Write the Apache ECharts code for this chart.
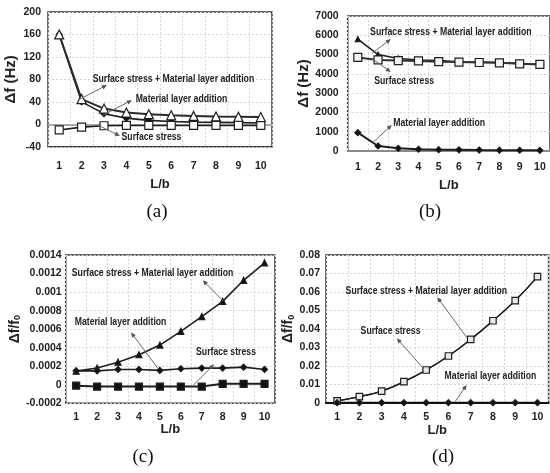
<!DOCTYPE html>
<html><head><meta charset="utf-8">
<script src="https://cdn.jsdelivr.net/npm/echarts@6/dist/echarts.min.js"></script>
<style>html,body{margin:0;padding:0;background:#fff}#c{width:550px;height:473px}</style>
</head><body><div id="c"></div>
<script>
// ---------- data ----------
const categories = ['1','2','3','4','5','6','7','8','9','10'];
// (a) Δf (Hz)
const aSum      = [160, 45, 28, 21, 18, 16, 15, 14, 13.5, 13];
const aMaterial = [160, 40, 19, 11, 7, 5, 4, 3.5, 3, 2.5];
const aSurface  = [-10, -5, -2.5, -2, -2, -2, -2, -2, -2, -2];
const aYTicks   = {min: -40, max: 200, interval: 40};
// (b) Δf (Hz)
const bSum      = [5800, 5000, 4800, 4720, 4690, 4630, 4610, 4590, 4540, 4490];
const bSurface  = [4850, 4720, 4690, 4670, 4630, 4610, 4590, 4570, 4520, 4490];
const bMaterial = [950, 260, 140, 90, 70, 60, 50, 45, 40, 35];
const bYTicks   = {min: 0, max: 7000, interval: 1000};
// (c) Δf/f0
const cSum      = [0.000147, 0.00018, 0.000244, 0.000324, 0.000428, 0.000576, 0.000735, 0.0009, 0.001127, 0.001315];
const cMaterial = [0.00015, 0.00015, 0.000165, 0.000165, 0.000155, 0.000173, 0.00018, 0.00018, 0.00019, 0.000165];
const cSurface  = [-0.00001, -0.00002, -0.00002, -0.00002, -0.00002, -0.00002, -0.00002, 0.00001, 0.00001, 0.00001];
const cYTicks   = {min: -0.0002, max: 0.0014, interval: 0.0002};
// (d) Δf/f0
const dSurface  = [0.001, 0.0033, 0.0063, 0.0114, 0.0177, 0.0253, 0.0343, 0.0444, 0.0553, 0.0683];
const dSum      = [0.001, 0.0033, 0.0063, 0.0114, 0.0177, 0.0253, 0.0343, 0.0444, 0.0553, 0.0683];
const dMaterial = [0, 0, 0, 0, 0, 0, 0, 0, 0, 0];
const dYTicks   = {min: 0, max: 0.08, interval: 0.01};

const SUM = 'Surface stress + Material layer addition';
const MAT = 'Material layer addition';
const SUR = 'Surface stress';

// annotations in data coordinates: [L/b, value]
const annotations = [
  {g:0, text:SUM, at:[6.1, 80],   from:[1.84, 43],  to:[3.13, 70]},
  {g:0, text:MAT, at:[6.46, 45],  from:[2.96, 16.6], to:[4.25, 43]},
  {g:0, text:SUR, at:[5.12, -22.6], from:[2.73, -1.2], to:[3.71, -20.8]},
  {g:1, text:SUM, at:[5.6, 6169], from:[1.72, 5080], to:[2.63, 5806]},
  {g:1, text:SUR, at:[3.29, 3629], from:[1.67, 4821], to:[2.63, 4095]},
  {g:1, text:MAT, at:[5.02, 1452], from:[1.72, 415], to:[2.68, 1348]},
  {g:2, text:SUM, at:[4.65, 0.001203], from:[8.02, 0.000904], to:[7.05, 0.001128]},
  {g:2, text:MAT, at:[3.12, 0.000674], from:[4.91, 0.000176], to:[3.62, 0.000565]},
  {g:2, text:SUR, at:[8.16, 0.000349], from:[6.58, -0.0000076], to:[7.59, 0.000219]},
  {g:3, text:SUM, at:[5.01, 0.0605], from:[6.82, 0.0354], to:[5.5, 0.0571]},
  {g:3, text:SUR, at:[3.4, 0.0388],  from:[4.87, 0.0186], to:[3.68, 0.0349]},
  {g:3, text:MAT, at:[7.89, 0.01446], from:[6.3, 0.00054], to:[6.82, 0.00959]}
];

// ---------- layout ----------
const grids = [
  {left: 48,    top: 12,  width: 224,   height: 134.8},
  {left: 347.7, top: 16,  width: 207.5, height: 135},
  {left: 65.7,  top: 255, width: 209.3, height: 148.3},
  {left: 326,   top: 255, width: 222.6, height: 147.7}
];
const yTicks = [aYTicks, bYTicks, cYTicks, dYTicks];
const labelMargins = [14, 11, 8, 9];
const xNameGaps = [31, 28, 19, 20];
const yNameGaps = [30, 32, 42, 27];
const yLabelMargins = [7, 9, 4, 6];
const xLineStyles = [
  {show:false}, {show:true, lineStyle:{color:'#8a8a8a', width:2}},
  {show:false}, {show:true, lineStyle:{color:'#111', width:2}}
];
const panelLabels = [
  {t:'(a)', x:157, y:212}, {t:'(b)', x:430, y:212},
  {t:'(c)', x:143, y:457}, {t:'(d)', x:443, y:457}
];

const tickFont = {fontFamily:'Liberation Sans', fontWeight:'bold', fontSize:10.5, color:'#222'};
const nameFont = {fontFamily:'Liberation Sans', fontWeight:'bold', fontSize:14, color:'#222'};
const gridLine = {show:true, lineStyle:{color:'#d6d6d6', type:[2,2], width:1}};

const chart = echarts.init(document.getElementById('c'), null, {renderer:'canvas'});

const yNames = ['Δf (Hz)', 'Δf (Hz)', '{a|Δf/f}{s|0}', '{a|Δf/f}{s|0}'];
const yNameSizes = [15, 15, 14, 14];

const option = {
  animation: false,
  backgroundColor: '#fff',
  grid: grids.map(g => Object.assign({show:true, borderColor:'#3a3a3a', borderWidth:1.5, containLabel:false}, g)),
  xAxis: grids.map((g, i) => ({
    type:'category', gridIndex:i, data:categories, boundaryGap:true,
    name:'L/b', nameLocation:'middle', nameGap:xNameGaps[i], nameTextStyle:Object.assign({}, nameFont, {fontSize:13}),
    axisLine:Object.assign({onZero:false}, xLineStyles[i]),
    axisTick:{show:false},
    axisLabel:Object.assign({margin:labelMargins[i], interval:0}, tickFont),
    splitLine:gridLine
  })),
  yAxis: grids.map((g, i) => ({
    type:'value', gridIndex:i, min:yTicks[i].min, max:yTicks[i].max, interval:yTicks[i].interval,
    name:yNames[i], nameLocation:'middle', nameRotate:90, nameGap:yNameGaps[i],
    nameTextStyle:Object.assign({}, nameFont, {fontSize:yNameSizes[i],
      rich:{a:Object.assign({}, nameFont), s:{fontFamily:'Liberation Sans', fontWeight:'bold', fontSize:9, color:'#222', padding:[6,0,0,0]}}
    }),
    axisLine:{show:false}, axisTick:{show:false},
    axisLabel:Object.assign({margin:yLabelMargins[i], formatter: v => String(parseFloat(Number(v).toFixed(6)))}, tickFont),
    splitLine:gridLine
  })),
  series: []
};

function ser(name, g, data, symbol, size, fill, extra) {
  return Object.assign({
    name, type:'line', xAxisIndex:g, yAxisIndex:g, data,
    symbol, symbolSize:size,
    lineStyle:{color:'#1e1e1e', width:1.6},
    itemStyle:{color:fill, borderColor:'#1e1e1e', borderWidth:1.2},
    z:3
  }, extra || {});
}

option.series.push(
  ser(MAT, 0, aMaterial, 'diamond', 6, '#111'),
  ser(SUR, 0, aSurface, 'rect', 8, '#fff', {
    markLine:{silent:true, symbol:'none', label:{show:false}, lineStyle:{color:'#a8a8a8', type:'solid', width:2}, data:[{yAxis:0}], z:1}
  }),
  ser(SUM, 0, aSum, 'triangle', 9, '#fff', {lineStyle:{color:'#2a2a2a', width:2}, z:4}),
  ser(SUM, 1, bSum, 'triangle', 5, '#111'),
  ser(SUR, 1, bSurface, 'rect', 8, '#f4f4f4', {lineStyle:{color:'#333', width:2}}),
  ser(MAT, 1, bMaterial, 'diamond', 6, '#111', {lineStyle:{color:'#1e1e1e', width:2}}),
  ser(SUM, 2, cSum, 'triangle', 6, '#111'),
  ser(MAT, 2, cMaterial, 'diamond', 6, '#111'),
  ser(SUR, 2, cSurface, 'rect', 7, '#111', {lineStyle:{color:'#1e1e1e', width:2}}),
  ser(SUM, 3, dSum, 'none', 0, '#111', {smooth:true, lineStyle:{color:'#1e1e1e', width:1.4}}),
  ser(SUR, 3, dSurface, 'rect', 6.5, '#e8e8e8', {smooth:true, lineStyle:{color:'#1e1e1e', width:1.2}}),
  ser(MAT, 3, dMaterial, 'diamond', 6, '#111', {lineStyle:{color:'#111', width:2}})
);

chart.setOption(option);

function px(g, L, v) {
  const p1 = chart.convertToPixel({gridIndex:g}, [categories[0], v]);
  const p2 = chart.convertToPixel({gridIndex:g}, [categories[1], v]);
  return [p1[0] + (p2[0] - p1[0]) * (L - 1), p1[1]];
}

const graphics = [];
annotations.forEach(a => {
  const s = px(a.g, a.from[0], a.from[1]);
  const e = px(a.g, a.to[0], a.to[1]);
  const dx = e[0] - s[0], dy = e[1] - s[1];
  const len = Math.hypot(dx, dy) || 1;
  const ux = dx / len, uy = dy / len, nx = -uy, ny = ux;
  const hl = 5, hw = 2.3;
  graphics.push({type:'line', z:10, shape:{x1:s[0], y1:s[1], x2:e[0] - ux * hl * 0.6, y2:e[1] - uy * hl * 0.6}, style:{stroke:'#6a6a6a', lineWidth:1}});
  graphics.push({type:'polygon', z:10, shape:{points:[[e[0], e[1]], [e[0] - ux*hl + nx*hw, e[1] - uy*hl + ny*hw], [e[0] - ux*hl - nx*hw, e[1] - uy*hl - ny*hw]]}, style:{fill:'#555'}});
  const t = px(a.g, a.at[0], a.at[1]);
  graphics.push({type:'text', z:11, x:t[0], y:t[1], scaleX:0.79,
    style:{text:a.text, fontFamily:'Liberation Sans', fontWeight:'bold', fontSize:11, fill:'#222', align:'center', verticalAlign:'middle'}});
});
panelLabels.forEach(p => {
  graphics.push({type:'text', z:11, x:p.x, y:p.y,
    style:{text:p.t, fontFamily:'Liberation Serif', fontSize:19, fill:'#111', align:'center', verticalAlign:'middle'}});
});
chart.setOption({graphic: graphics});
</script>
</body></html>
